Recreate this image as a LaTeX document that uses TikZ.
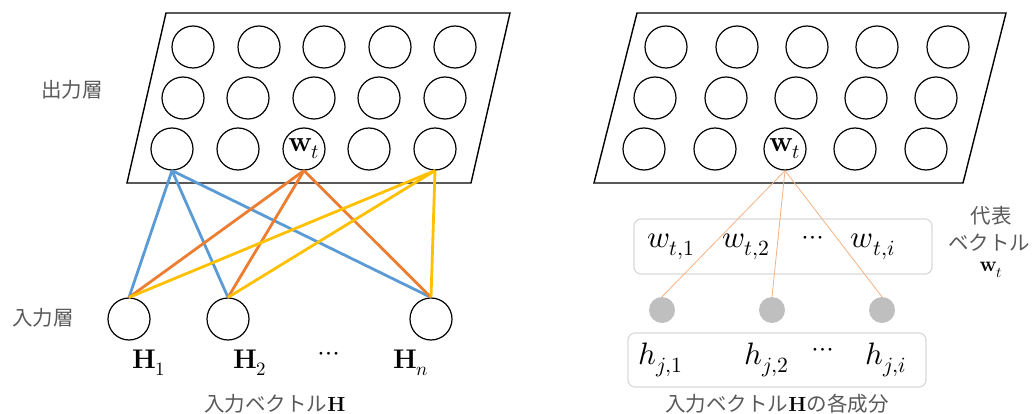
\documentclass[tikz,border=0pt]{standalone}
\usepackage{fontspec}
\usepackage{unicode-math}
\setmathfont{Latin Modern Math}
\newfontfamily\jp{Noto Sans CJK JP}
\definecolor{cblue}{HTML}{5B9BD5}
\definecolor{corange}{HTML}{ED7D31}
\definecolor{cyellow}{HTML}{FFC000}
\definecolor{clorange}{HTML}{F4B183}
\definecolor{cgreytext}{HTML}{595959}
\definecolor{cdot}{HTML}{BFBFBF}
\definecolor{cbox}{HTML}{D9D9D9}
\begin{document}
\begin{tikzpicture}[x=1pt,y=-1pt,
  neuron/.style={circle,draw=black,line width=1.2pt,minimum size=42pt,inner sep=0pt,fill=white},
  innode/.style={circle,draw=black,line width=1.2pt,minimum size=42pt,inner sep=0pt},
  layer/.style={draw=black,line width=1.4pt},
  jlabel/.style={font=\jp\fontsize{20.5}{24}\selectfont,text=cgreytext},
  mlabel/.style={font=\fontsize{27}{30}\selectfont},
  wtfont/.style={font=\fontsize{29}{32}\selectfont},
  blabel/.style={font=\fontsize{31}{34}\selectfont},
  conn/.style={line width=2.8pt},
  thin/.style={draw=clorange,line width=0.8pt},
  hdot/.style={circle,fill=cdot,minimum size=26pt,inner sep=0pt},
  vbox/.style={draw=cbox,line width=1.2pt,rounded corners=7pt}]
\useasboundingbox (0,0) rectangle (1036,414);
% ---------- left panel ----------
\draw[layer] (166,13) -- (510,13) -- (471,183) -- (127,183) -- cycle;
\foreach \x [count=\i] in {193,259,324,390,455} \node[neuron] (la\i) at (\x,47) {};
\foreach \x [count=\i] in {183,248,314,379,445} \node[neuron] (lb\i) at (\x,98) {};
\node[neuron] (lc1) at (172,149) {};
\node[neuron] (lc2) at (238,149) {};
\node[neuron,wtfont] (lc3) at (304,149) {$\mathbf{w}_t$};
\node[neuron] (lc4) at (369,149) {};
\node[neuron] (lc5) at (435,149) {};
\node[jlabel] (outl) at (72,90) {出力層};
\node[innode] (h1) at (129,319) {};
\node[innode] (h2) at (228,319) {};
\node[innode] (hn) at (431,319) {};
\node[jlabel] (inl) at (43,318) {入力層};
\foreach \t in {h1,h2,hn} \draw[conn,cblue] (lc1.south) -- (\t.north);
\foreach \t in {h1,h2,hn} \draw[conn,corange] (lc3.south) -- (\t.north);
\foreach \t in {h1,h2,hn} \draw[conn,cyellow] (lc5.south) -- (\t.north);
\node[mlabel] (H1) at (149,363) {$\mathbf{H}_1$};
\node[mlabel] (H2) at (250,363) {$\mathbf{H}_2$};
\node[mlabel] (Hd) at (329,356) {$\cdots$};
\node[mlabel] (Hn) at (411,363) {$\mathbf{H}_n$};
\node[jlabel] (invec) at (275,404) {入力ベクトル\textcolor{black}{$\mathbf{H}$}};
% ---------- right panel ----------
\draw[layer] (637,13) -- (1006,13) -- (963,183) -- (594,183) -- cycle;
\foreach \x [count=\i] in {666,737,807,877,948} \node[neuron] (ra\i) at (\x,47) {};
\foreach \x [count=\i] in {655,726,796,866,936} \node[neuron] (rb\i) at (\x,98) {};
\node[neuron] (rc1) at (644,149) {};
\node[neuron] (rc2) at (715,149) {};
\node[neuron,wtfont] (rc3) at (785,149) {$\mathbf{w}_t$};
\node[neuron] (rc4) at (855,149) {};
\node[neuron] (rc5) at (926,149) {};
\draw[vbox] (634,219) rectangle (932,274);
\node[hdot] (d1) at (662,310) {};
\node[hdot] (d2) at (772,310) {};
\node[hdot] (d3) at (882,310) {};
\foreach \t in {d1,d2,d3} \draw[thin] (rc3.south) -- (\t.north);
\node[blabel] (w1) at (671,247) {$w_{t,1}$};
\node[blabel] (w2) at (746,247) {$w_{t,2}$};
\node[mlabel] (wd) at (813,240) {$\cdots$};
\node[blabel] (wi) at (873,247) {$w_{t,i}$};
\draw[vbox] (628,333) rectangle (926,387);
\node[blabel] (hj1) at (661,360) {$h_{j,1}$};
\node[blabel] (hj2) at (767,360) {$h_{j,2}$};
\node[mlabel] (hjd) at (823,352) {$\cdots$};
\node[blabel] (hji) at (886,360) {$h_{j,i}$};
\node[jlabel] (comp) at (777,404) {入力ベクトル\textcolor{black}{$\mathbf{H}$}の各成分};
\node[jlabel] (rep1) at (991,216) {代表};
\node[jlabel] (rep2) at (989,243) {ベクトル};
\node[font=\fontsize{21}{24}\selectfont] (rep3) at (991,270) {$\mathbf{w}_t$};
\end{tikzpicture}
\end{document}
